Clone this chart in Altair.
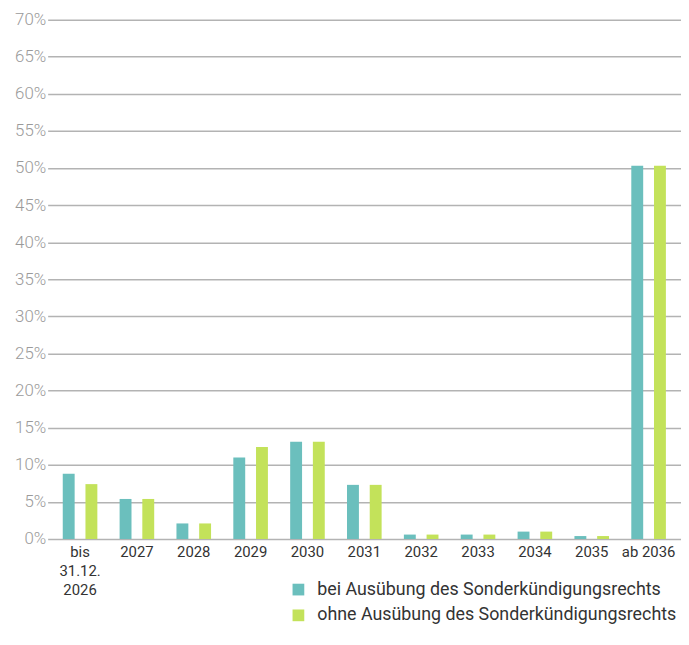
import altair as alt
import pandas as pd

categories = ["bis|31.12.|2026", "2027", "2028", "2029", "2030", "2031",
              "2032", "2033", "2034", "2035", "ab 2036"]
series_names = ["bei Ausübung des Sonderkündigungsrechts",
                "ohne Ausübung des Sonderkündigungsrechts"]
bei_values = [8.8, 5.4, 2.1, 11.0, 13.1, 7.3, 0.6, 0.6, 1.0, 0.4, 50.3]
ohne_values = [7.4, 5.4, 2.1, 12.4, 13.1, 7.3, 0.6, 0.6, 1.0, 0.4, 50.3]
y_ticks = list(range(0, 75, 5))
colors = ["#6bbfbd", "#c3e25a"]

rows = []
for c, b, o in zip(categories, bei_values, ohne_values):
    rows.append({"cat": c, "series": series_names[0], "value": b})
    rows.append({"cat": c, "series": series_names[1], "value": o})
df = pd.DataFrame(rows)

chart = alt.Chart(df).mark_bar(size=12).encode(
    x=alt.X("cat:N", sort=categories, title=None,
            scale=alt.Scale(paddingInner=0, paddingOuter=0.07),
            axis=alt.Axis(labelAngle=0, labelExpr="split(datum.label, '|')",
                          labelColor="#333333", labelFontSize=15,
                          labelLineHeight=19, labelPadding=6,
                          ticks=False, domain=False, labelFont="Roboto",
                          labelFontWeight=400)),
    xOffset=alt.XOffset("series:N", sort=series_names,
                        scale=alt.Scale(paddingInner=0.478, paddingOuter=0.491)),
    y=alt.Y("value:Q", title=None,
            scale=alt.Scale(domain=[0, 70], nice=False),
            axis=alt.Axis(values=y_ticks, labelExpr="datum.value + '%'",
                          labelColor="#9a9a9a", labelFontSize=17,
                          labelFont="Roboto", labelFontWeight=300,
                          labelPadding=2, ticks=False, domain=False,
                          gridColor="#b3b3b3", gridWidth=1.5)),
    color=alt.Color("series:N", sort=series_names,
                    scale=alt.Scale(domain=series_names, range=colors),
                    legend=alt.Legend(title=None, orient="none",
                                      legendX=244, legendY=566,
                                      symbolType="square", symbolSize=140,
                                      symbolStrokeWidth=0, labelOffset=10,
                                      labelFontSize=18, labelColor="#333333",
                                      labelFont="Roboto", labelFontWeight=400,
                                      rowPadding=8, labelLimit=500)),
).properties(
    width=639, height=524,
    padding={"left": 6, "top": 0, "right": 0, "bottom": 0}
).configure_view(stroke=None)

chart.save("out.html", embed_options={"renderer": "svg", "actions": False})
